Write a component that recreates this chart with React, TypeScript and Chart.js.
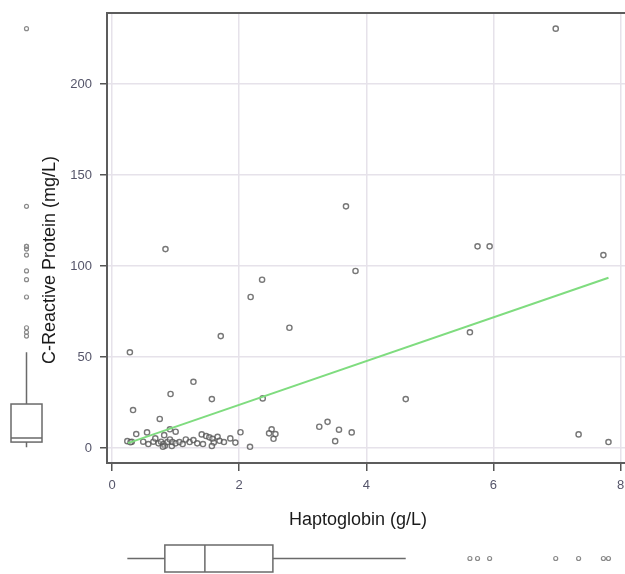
import React, { useEffect, useRef } from "react";
import { Chart, registerables } from "chart.js";
Chart.register(...registerables);

// Haptoglobin (g/L) values of each subject
const hapX = [
  6.98, 3.68, 0.84, 5.75, 5.94, 7.73, 3.83, 2.36, 2.18, 2.79, 5.63, 1.71, 0.28,
  1.28, 0.92, 4.62, 1.57, 2.37, 0.33, 0.75, 3.39, 3.26, 3.57, 3.77, 3.51, 7.34,
  7.81, 2.02, 2.17, 2.51, 2.47, 2.57, 2.54, 0.91, 1.0, 0.82, 0.38, 0.55, 0.24,
  0.31, 0.29, 0.49, 0.57, 0.65, 0.68, 0.73, 0.77, 0.81, 0.83, 0.8, 0.87, 0.91,
  0.94, 0.95, 1.0, 1.06, 1.11, 1.16, 1.22, 1.28, 1.34, 1.41, 1.43, 1.48, 1.53,
  1.58, 1.6, 1.57, 1.66, 1.69, 1.76, 1.86, 1.94,
];
// C-Reactive Protein (mg/L) values of each subject
const crpY = [
  230.4, 132.8, 109.3, 110.8, 110.8, 106, 97.3, 92.5, 83, 66.1, 63.6, 61.5, 52.6,
  36.4, 29.7, 26.9, 26.9, 27.3, 20.9, 16, 14.4, 11.7, 10.1, 8.6, 3.8, 7.5,
  3.3, 8.7, 0.7, 10.3, 8.1, 7.7, 5.1, 10.3, 9, 7.1, 7.7, 8.6, 3.8,
  3.5, 3.2, 3.5, 2.2, 3.5, 5.3, 2.6, 3.5, 2.2, 1.3, 0.7, 3.3, 4.7,
  1.1, 3.3, 2.6, 3.3, 2.2, 4.7, 3.3, 4.4, 2.6, 7.5, 2.2, 6.6, 5.9,
  5.1, 3.0, 1.1, 6.2, 4.0, 3.3, 5.3, 3.0,
];

// regression line end points
const fitX = [0.25, 7.81];
const fitY = [2.7, 93.6];

// tick labels
const xTicks = [0, 2, 4, 6, 8];
const yTicks = [0, 50, 100, 150, 200];

// marginal boxplots: [lower whisker, Q1, median, Q3, upper whisker]
const crpBox = [0.5, 3.3, 5.5, 24.2, 52.6];
const crpOutliers = [61.5, 63.6, 66.1, 83, 92.5, 97.3, 106, 109.3, 110.8, 110.8, 132.8, 230.4];
const hapBox = [0.24, 0.83, 1.46, 2.53, 4.62];
const hapOutliers = [5.63, 5.75, 5.94, 6.98, 7.34, 7.73, 7.81];

const xTitle = "Haptoglobin (g/L)";
const yTitle = "C-Reactive Protein (mg/L)";

export default function App() {
  const ref = useRef<HTMLCanvasElement>(null);

  useEffect(() => {
    const canvas = ref.current;
    if (!canvas) return;

    const marginPlugin = {
      id: "margins",
      afterDraw(chart: any) {
        const { ctx, chartArea, scales } = chart;
        const x = scales.x;
        const y = scales.y;
        ctx.save();
        // top frame line
        ctx.strokeStyle = "#5c5c5c";
        ctx.lineWidth = 2;
        ctx.beginPath();
        ctx.moveTo(chartArea.left - 1, chartArea.top);
        ctx.lineTo(chartArea.right, chartArea.top);
        ctx.stroke();

        // axis titles
        ctx.fillStyle = "#1a1a1a";
        ctx.font = '18px "Liberation Sans"';
        ctx.textAlign = "center";
        ctx.textBaseline = "middle";
        ctx.fillText(xTitle, (chartArea.left + chartArea.right) / 2 - 8, chartArea.bottom + 57);
        ctx.save();
        ctx.translate(50, (chartArea.top + chartArea.bottom) / 2 + 22);
        ctx.rotate(-Math.PI / 2);
        ctx.fillText(yTitle, 0, 0);
        ctx.restore();

        // left (CRP) boxplot
        ctx.strokeStyle = "#6a6a6a";
        ctx.lineWidth = 1.5;
        const lx0 = 11, lx1 = 42, lcx = 26.5;
        const [lw, q1, md, q3, hw] = crpBox.map((v) => y.getPixelForValue(v));
        ctx.strokeRect(lx0, q3, lx1 - lx0, q1 - q3);
        ctx.beginPath();
        ctx.moveTo(lx0, md);
        ctx.lineTo(lx1, md);
        ctx.moveTo(lcx, q3);
        ctx.lineTo(lcx, hw);
        ctx.moveTo(lcx, q1);
        ctx.lineTo(lcx, lw);
        ctx.stroke();
        ctx.strokeStyle = "#8a8a8a";
        ctx.lineWidth = 1.2;
        crpOutliers.forEach((v) => {
          ctx.beginPath();
          ctx.arc(lcx, y.getPixelForValue(v), 2, 0, Math.PI * 2);
          ctx.stroke();
        });

        // bottom (haptoglobin) boxplot
        ctx.strokeStyle = "#6a6a6a";
        ctx.lineWidth = 1.5;
        const by0 = 545, by1 = 572, bcy = 558.5;
        const [bw, b1, bm, b3, bh] = hapBox.map((v) => x.getPixelForValue(v));
        ctx.strokeRect(b1, by0, b3 - b1, by1 - by0);
        ctx.beginPath();
        ctx.moveTo(bm, by0);
        ctx.lineTo(bm, by1);
        ctx.moveTo(bw, bcy);
        ctx.lineTo(b1, bcy);
        ctx.moveTo(b3, bcy);
        ctx.lineTo(bh, bcy);
        ctx.stroke();
        ctx.strokeStyle = "#8a8a8a";
        ctx.lineWidth = 1.2;
        hapOutliers.forEach((v) => {
          ctx.beginPath();
          ctx.arc(x.getPixelForValue(v), bcy, 2, 0, Math.PI * 2);
          ctx.stroke();
        });
        ctx.restore();
      },
    };

    const points = hapX.map((v, i) => ({ x: v, y: crpY[i] }));
    const fit = fitX.map((v, i) => ({ x: v, y: fitY[i] }));

    const tickFont = { family: '"Liberation Sans"', size: 13 };
    const chart = new Chart(canvas, {
      type: "scatter",
      data: {
        datasets: [
          {
            type: "line",
            data: fit,
            borderColor: "#7fdc7f",
            borderWidth: 2,
            pointRadius: 0,
            fill: false,
          } as any,
          {
            data: points,
            pointRadius: 2.6,
            pointBorderWidth: 1.4,
            borderColor: "rgba(85,85,85,0.8)",
            backgroundColor: "rgba(255,255,255,0.3)",
          },
        ],
      },
      options: {
        animation: false,
        responsive: false,
        devicePixelRatio: 1,
        layout: { autoPadding: false, padding: { left: 0, top: 13, right: 0, bottom: 0 } },
        plugins: {
          legend: { display: false },
          tooltip: { enabled: false },
        },
        scales: {
          x: {
            type: "linear",
            min: -0.08,
            max: 8.07,
            afterBuildTicks: (s: any) => {
              s.ticks = xTicks.map((v) => ({ value: v }));
            },
            afterFit: (s: any) => {
              s.height = 111;
              s.paddingLeft = 0;
              s.paddingRight = 0;
            },
            ticks: { font: tickFont, color: "#55556a", padding: 7, maxRotation: 0 },
            grid: {
              color: "#e6e2ea",
              lineWidth: 1.5,
              tickLength: 8,
              tickColor: "#555",
              tickWidth: 1.5,
            },
            border: { color: "#5c5c5c", width: 2 },
          },
          y: {
            type: "linear",
            min: -8.2,
            max: 239,
            afterBuildTicks: (s: any) => {
              s.ticks = yTicks.map((v) => ({ value: v }));
            },
            afterFit: (s: any) => {
              s.width = 107;
              s.paddingTop = 0;
              s.paddingBottom = 0;
            },
            ticks: { font: tickFont, color: "#55556a", padding: 8 },
            grid: {
              color: "#e6e2ea",
              lineWidth: 1.5,
              tickLength: 7,
              tickColor: "#555",
              tickWidth: 1.5,
            },
            border: { color: "#5c5c5c", width: 2 },
          },
        },
      },
      plugins: [marginPlugin],
    });
    return () => chart.destroy();
  }, []);

  return (
    <div style={{ position: "fixed", left: 0, top: 0, width: 625, height: 574, background: "#fff" }}>
      <canvas ref={ref} width={625} height={574} style={{ display: "block", width: 625, height: 574 }} />
    </div>
  );
}
